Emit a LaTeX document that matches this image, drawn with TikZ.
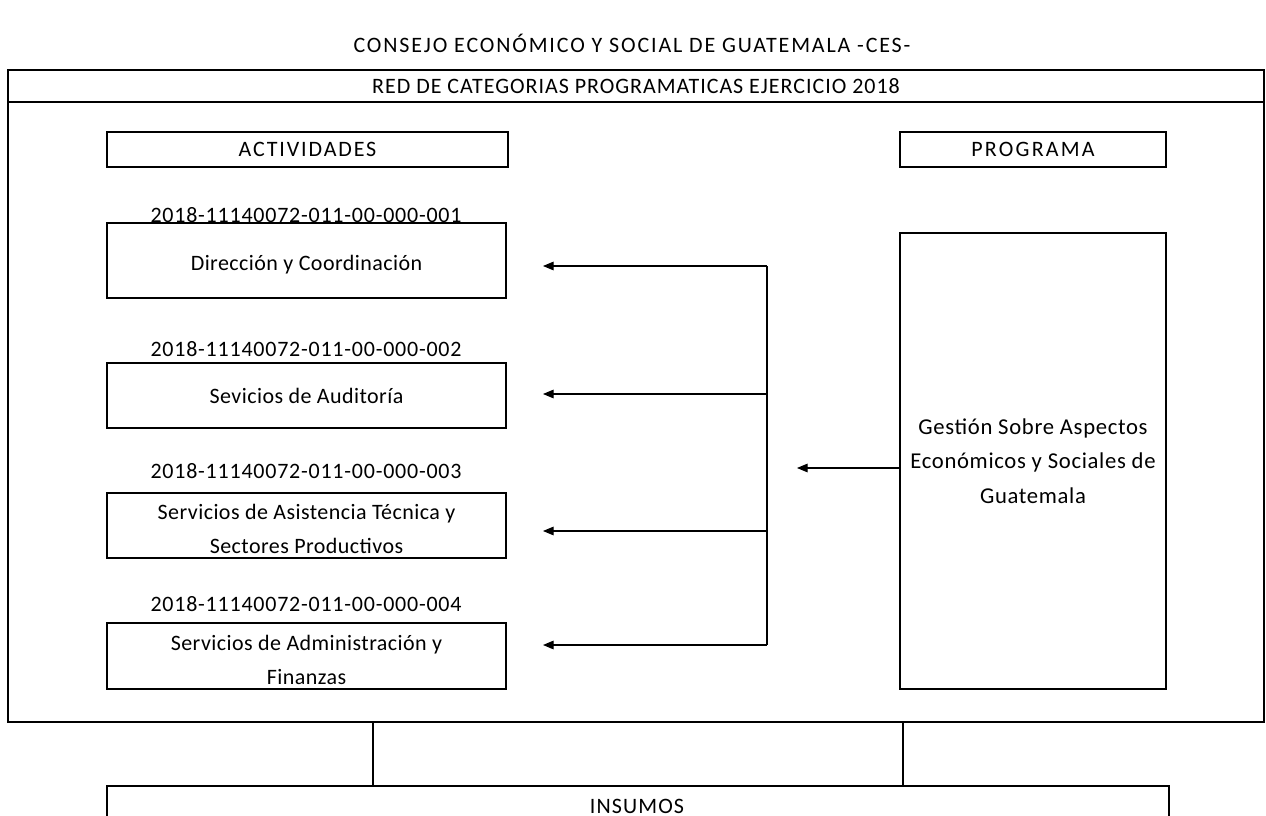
\documentclass[tikz,border=0pt]{standalone}
\usepackage{fontspec}
\setmainfont{Carlito}
\usetikzlibrary{arrows.meta}
\begin{document}
\begin{tikzpicture}[x=0.75pt,y=-0.75pt,
  every node/.style={font=\fontsize{16.5}{25.5}\selectfont\addfontfeature{LetterSpace=2}},
  box/.style={draw, line width=1.1pt, inner sep=0pt, align=center},
  sz/.style 2 args={minimum width={#1*0.75pt}, minimum height={#2*0.75pt}},
  label/.style={inner sep=0pt, align=center},
  code/.style={label, font=\fontsize{16.5}{22}\selectfont\addfontfeature{LetterSpace=3.5}},
  caps/.style={font=\fontsize{16.5}{22}\selectfont\addfontfeature{LetterSpace=#1}},
  conn/.style={line width=0.8pt},
  arr/.style={conn, -{Triangle[length=8pt,width=6.5pt]}}]
\useasboundingbox (0,0) rectangle (1266,816);
\clip (0,0) rectangle (1266,816);
% title
\node[label, caps=8.4] (title) at (632,43) {CONSEJO ECONÓMICO Y SOCIAL DE GUATEMALA -CES-};
% outer frame
\node[box, sz={1256}{652}] (frame) at (636,396) {};
\node[box, sz={1256}{32}, caps=4.4] (header) at (636,86) {RED DE CATEGORIAS PROGRAMATICAS EJERCICIO 2018};
% column heads
\node[box, sz={401}{35}, caps=8.6] (act) at (307.5,149.5) {ACTIVIDADES};
\node[box, sz={266}{35}, caps=10] (prog) at (1033,149.5) {PROGRAMA};
% activity codes
\node[code] (c1) at (306,215) {2018-11140072-011-00-000-001};
\node[code] (c2) at (306,349) {2018-11140072-011-00-000-002};
\node[code] (c3) at (306,471) {2018-11140072-011-00-000-003};
\node[code] (c4) at (306,604) {2018-11140072-011-00-000-004};
% activity boxes
\node[box, sz={399}{75}] (b1) at (306.5,260.5) {};
\node[label] (b1t) at (306.5,265) {Dirección y Coordinación};
\node[box, sz={399}{65}] (b2) at (306.5,395.5) {Sevicios de Auditoría};
\node[box, sz={399}{65}] (b3) at (306.5,525.5) {};
\node[label] (b3t) at (306.5,529) {Servicios de Asistencia Técnica y\\Sectores Productivos};
\node[box, sz={399}{66}] (b4) at (306.5,656) {};
\node[label] (b4t) at (306.5,660) {Servicios de Administración y\\Finanzas};
% programme box
\node[box, sz={266}{456}, font=\fontsize{17}{26}\selectfont\addfontfeature{LetterSpace=3}] (g) at (1033,461) {Gestión Sobre Aspectos\\Económicos y Sociales de\\Guatemala};
% connector coordinates
\coordinate (j1) at (767,266);
\coordinate (j2) at (767,394);
\coordinate (j3) at (767,531);
\coordinate (j4) at (767,645);
\coordinate (t1) at (543,266);
\coordinate (t2) at (543,394);
\coordinate (t3) at (543,531);
\coordinate (t4) at (543,645);
\coordinate (tg) at (797,468);
\draw[arr] (g.west |- tg) -- (tg);
\draw[conn] (j1) -- (j4);
\draw[arr] (j1) -- (t1);
\draw[arr] (j2) -- (t2);
\draw[arr] (j3) -- (t3);
\draw[arr] (j4) -- (t4);
% insumos
\node[box, sz={1062}{60}] (ins) at (638,816) {};
\node[label, caps=5] (inst) at (637,806) {INSUMOS};
\coordinate (v1) at (373,0);
\coordinate (v2) at (903,0);
\draw[line width=1pt] (frame.south -| v1) -- (ins.north -| v1);
\draw[line width=1pt] (frame.south -| v2) -- (ins.north -| v2);
\end{tikzpicture}
\end{document}
